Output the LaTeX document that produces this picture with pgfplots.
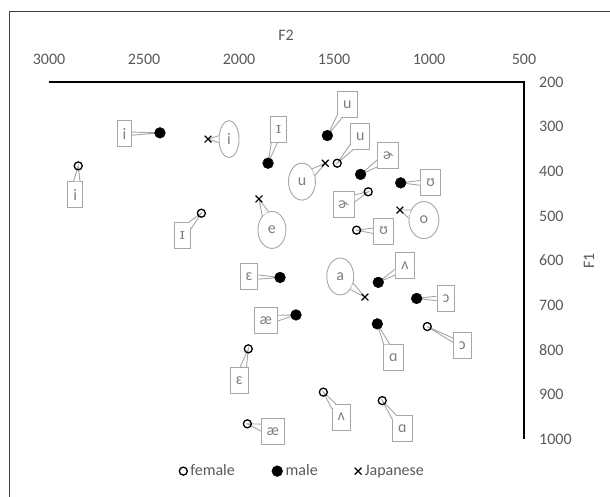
\documentclass[border=0pt]{standalone}
\usepackage{fontspec}
\setmainfont{Carlito}
\newfontfamily\ipaserif{DejaVu Serif}
\usepackage{pgfplots}
\usepackage{pgfplotstable}
\pgfplotsset{compat=1.18}
\usetikzlibrary{calc,shapes.geometric}

\definecolor{ticktext}{HTML}{595959}
\definecolor{callline}{HTML}{A6A6A6}
\definecolor{calltext}{HTML}{7F7F7F}
\definecolor{framegray}{HTML}{404040}

% formant measurements (Hz)
\pgfplotstableread{
F2   F1
2846 388
2198 494
1951 798
1956 966
1556 895
1246 914
1009 748
1381 532
1483 382
1320 446
}\femaledata

\pgfplotstableread{
F2   F1
2416 314
1847 382
1784 638
1700 722
1267 649
1272 742
1065 685
1149 426
1535 320
1360 407
}\maledata

\pgfplotstableread{
F2   F1
2163 328
1895 462
1337 682
1153 487
1546 382
}\japanesedata

\newcommand{\smallcapI}{{\ipaserif\fontsize{15.5}{18}\selectfont ɪ}}

\tikzset{
  lblfont/.style={font=\fontsize{16}{19}\selectfont},
  boxlbl/.style={rectangle, draw=callline, fill=white, text=calltext, line width=0.9pt,
    minimum height=26pt, inner xsep=5.5pt, inner ysep=0pt, lblfont},
  elllbl/.style={ellipse, draw=callline, fill=white, text=calltext, line width=0.9pt,
    minimum height=37pt, minimum width=#1, inner sep=0pt, lblfont},
}

% wedge callout: #1 node style, #2 F2, #3 F1, #4 dx, #5 dy (pt), #6 text
\newcommand{\wcall}[6]{%
  \coordinate (cp) at (axis cs:#2,#3);
  \node[#1] (cl) at ($(cp)+(#4pt,#5pt)$) {#6};
  \path (cl) -- ($(cp)!7pt!90:(cl.center)$) coordinate[pos=0] (cb1);
  \path (cl) -- ($(cp)!7pt!-90:(cl.center)$) coordinate[pos=0] (cb2);
  \fill[white] (cb1) -- (cp) -- (cb2) -- cycle;
  \draw[callline, line width=0.9pt, line join=miter] (cb1) -- (cp) -- (cb2);
}

\begin{document}
\begin{tikzpicture}
\useasboundingbox (0,0) rectangle (610pt,497pt);
\draw[framegray, line width=0.9pt] (9pt,0pt) -- (9pt,486pt) -- (610pt,486pt);
\begin{axis}[
  at={(286.5pt,236.5pt)}, anchor=center,
  scale only axis, width=475pt, height=357pt,
  xmin=500, xmax=3000, ymin=200, ymax=1000,
  x dir=reverse, y dir=reverse,
  xtick={500,1000,...,3000}, ytick={200,300,...,1000},
  xticklabel pos=upper, yticklabel pos=right,
  major tick length=0pt,
  axis line style={draw=none},
  clip=false,
  tick label style={font=\fontsize{16}{19}\selectfont, text=ticktext},
  /pgf/number format/assume math mode=true,
  /pgf/number format/1000 sep={},
  xticklabel style={anchor=base, inner sep=0pt, yshift=17pt},
  yticklabel style={anchor=west, inner sep=0pt, xshift=15pt},
  legend style={at={(axis description cs:0.535,-0.09)}, anchor=center,
    draw=none, fill=none, legend columns=3, inner sep=0pt,
    font=\fontsize{16}{19}\selectfont, text=ticktext,
    nodes={inner xsep=3pt},
    /tikz/every even column/.append style={column sep=34pt}},
  legend image code/.code={\draw[#1] plot coordinates {(0pt,0pt)};},
]
% axis lines along F1 = 200 and F2 = 500
\draw[black, line width=2pt] (axis cs:3000,200) -- (axis cs:500,200) -- (axis cs:500,1000);

% female callouts
\wcall{boxlbl}{2846}{388}{-3}{-29}{i}
\wcall{boxlbl}{2198}{494}{-19}{-22}{\smallcapI}
\wcall{boxlbl}{1951}{798}{-9}{-31.5}{ɛ}
\wcall{boxlbl}{1956}{966}{25.5}{-7.7}{æ}
\wcall{boxlbl}{1556}{895}{18}{-25}{ʌ}
\wcall{boxlbl}{1246}{914}{20}{-28}{ɑ}
\wcall{boxlbl}{1009}{748}{35}{-19}{ɔ}
\wcall{boxlbl}{1381}{532}{27}{-1}{ʊ}
\wcall{boxlbl}{1483}{382}{23}{26.5}{u}
\wcall{boxlbl}{1320}{446}{-24.6}{-13}{ɚ}
% male callouts
\wcall{boxlbl}{2416}{314}{-35.5}{-1}{i}
\wcall{boxlbl}{1847}{382}{10.5}{33.6}{\smallcapI}
\wcall{boxlbl}{1784}{638}{-31}{0.6}{ɛ}
\wcall{boxlbl}{1700}{722}{-30.3}{-5.5}{æ}
\wcall{boxlbl}{1267}{649}{26.7}{17}{ʌ}
\wcall{boxlbl}{1272}{742}{16}{-34}{ɑ}
\wcall{boxlbl}{1065}{685}{29.3}{0}{ɔ}
\wcall{boxlbl}{1149}{426}{30}{0}{ʊ}
\wcall{boxlbl}{1535}{320}{20}{31}{u}
\wcall{boxlbl}{1360}{407}{27.6}{19}{ɚ}
% Japanese callouts
\wcall{elllbl=20pt}{2163}{328}{21}{0}{i}
\wcall{elllbl=28pt}{1895}{462}{13}{-31}{e}
\wcall{elllbl=27pt}{1337}{682}{-24.7}{20.6}{a}
\wcall{elllbl=30pt}{1153}{487}{24}{-10}{o}
\wcall{elllbl=27pt}{1546}{382}{-23.3}{-18.4}{u}

\addplot[only marks, mark=o, mark size=4pt, line width=1.3pt, black]
  table[x=F2, y=F1] {\femaledata};
\addlegendentry{female}
\addplot[only marks, mark=*, mark size=5.4pt, black, mark options={fill=black}]
  table[x=F2, y=F1] {\maledata};
\addlegendentry{male}
\addplot[only marks, mark=x, mark size=4.8pt, line width=1.2pt, black]
  table[x=F2, y=F1] {\japanesedata};
\addlegendentry{Japanese}
\end{axis}
\node[text=ticktext, font=\fontsize{16}{19}\selectfont] at (286pt,462pt) {F2};
\node[text=ticktext, font=\fontsize{16}{19}\selectfont, rotate=90] at (589pt,236pt) {F1};
\end{tikzpicture}
\end{document}
